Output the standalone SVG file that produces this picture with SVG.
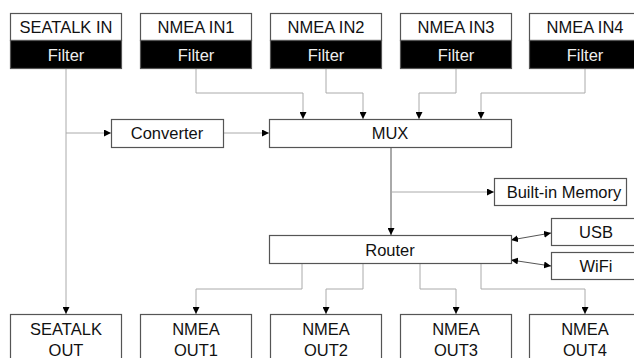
<svg xmlns="http://www.w3.org/2000/svg" width="634" height="358" viewBox="0 0 634 358">
<style>
.box{fill:#fff;stroke:#555;stroke-width:1.2}
.blk{fill:#000;stroke:#555;stroke-width:1.2}
.t{font-family:"Liberation Sans",Arial,sans-serif;font-size:16.5px;fill:#111;text-anchor:middle}
.w{fill:#eee}
.c{fill:none;stroke:#aaa;stroke-width:1}
.d{fill:none;stroke:#555;stroke-width:1}
</style>
<defs>
<marker id="ah" markerUnits="userSpaceOnUse" markerWidth="7" markerHeight="7" refX="6" refY="3" orient="auto-start-reverse" viewBox="0 0 6 6">
<path d="M0,0 L6,3 L0,6 z" fill="#000"/>
</marker>
</defs>
<g id="connectors">
<path class="c" d="M66,69 V314" marker-end="url(#ah)"/>
<path class="c" d="M66,133 H111" marker-end="url(#ah)"/>
<path class="c" d="M223,133 H269" marker-end="url(#ah)"/>
<path class="c" d="M196,69 V93 H303 V119" marker-end="url(#ah)"/>
<path class="c" d="M326,69 V93 H363 V119" marker-end="url(#ah)"/>
<path class="c" d="M456,69 V93 H419 V119" marker-end="url(#ah)"/>
<path class="c" d="M585,69 V93 H481 V119" marker-end="url(#ah)"/>
<path class="d" d="M391,147 V235" marker-end="url(#ah)"/>
<path class="c" d="M391,192 H494" marker-end="url(#ah)"/>
<path class="d" d="M511,240 L551,233" marker-start="url(#ah)" marker-end="url(#ah)"/>
<path class="d" d="M511,260 L551,266" marker-start="url(#ah)" marker-end="url(#ah)"/>
<path class="c" d="M302,263 V289 H196 V314" marker-end="url(#ah)"/>
<path class="c" d="M363,263 V289 H326 V314" marker-end="url(#ah)"/>
<path class="c" d="M420,263 V289 H456 V314" marker-end="url(#ah)"/>
<path class="c" d="M481,263 V289 H585 V314" marker-end="url(#ah)"/>
</g>
<g id="seatalk-in">
<rect class="box" x="10.5" y="13.5" width="111" height="27"/>
<rect class="blk" x="10.5" y="40.5" width="111" height="28"/>
<text class="t" x="66" y="32.5">SEATALK IN</text>
<text class="t w" x="66" y="60.5">Filter</text>
</g>
<g id="nmea-in1">
<rect class="box" x="140.5" y="13.5" width="111" height="27"/>
<rect class="blk" x="140.5" y="40.5" width="111" height="28"/>
<text class="t" x="196" y="32.5">NMEA IN1</text>
<text class="t w" x="196" y="60.5">Filter</text>
</g>
<g id="nmea-in2">
<rect class="box" x="270.5" y="13.5" width="111" height="27"/>
<rect class="blk" x="270.5" y="40.5" width="111" height="28"/>
<text class="t" x="326" y="32.5">NMEA IN2</text>
<text class="t w" x="326" y="60.5">Filter</text>
</g>
<g id="nmea-in3">
<rect class="box" x="400.5" y="13.5" width="111" height="27"/>
<rect class="blk" x="400.5" y="40.5" width="111" height="28"/>
<text class="t" x="456" y="32.5">NMEA IN3</text>
<text class="t w" x="456" y="60.5">Filter</text>
</g>
<g id="nmea-in4">
<rect class="box" x="529.5" y="13.5" width="111" height="27"/>
<rect class="blk" x="529.5" y="40.5" width="111" height="28"/>
<text class="t" x="585" y="32.5">NMEA IN4</text>
<text class="t w" x="585" y="60.5">Filter</text>
</g>
<g id="converter">
<rect class="box" x="111.5" y="119.5" width="112" height="28"/>
<text class="t" x="167" y="139">Converter</text>
</g>
<g id="mux">
<rect class="box" x="269.5" y="119.5" width="242" height="28"/>
<text class="t" x="390" y="139">MUX</text>
</g>
<g id="memory">
<rect class="box" x="494.5" y="178.5" width="132" height="27"/>
<text class="t" x="564" y="197.5">Built-in Memory</text>
</g>
<g id="router">
<rect class="box" x="269.5" y="235.5" width="242" height="28"/>
<text class="t" x="390" y="255.5">Router</text>
</g>
<g id="usb">
<rect class="box" x="551.5" y="218.5" width="90" height="27"/>
<text class="t" x="596" y="238">USB</text>
</g>
<g id="wifi">
<rect class="box" x="551.5" y="252.5" width="90" height="27"/>
<text class="t" x="596" y="272">WiFi</text>
</g>
<g id="seatalk-out">
<rect class="box" x="10.5" y="314.5" width="111" height="60"/>
<text class="t" x="66" y="335">SEATALK</text>
<text class="t" x="66" y="356">OUT</text>
</g>
<g id="nmea-out1">
<rect class="box" x="140.5" y="314.5" width="111" height="60"/>
<text class="t" x="196" y="335">NMEA</text>
<text class="t" x="196" y="356">OUT1</text>
</g>
<g id="nmea-out2">
<rect class="box" x="270.5" y="314.5" width="111" height="60"/>
<text class="t" x="326" y="335">NMEA</text>
<text class="t" x="326" y="356">OUT2</text>
</g>
<g id="nmea-out3">
<rect class="box" x="400.5" y="314.5" width="111" height="60"/>
<text class="t" x="456" y="335">NMEA</text>
<text class="t" x="456" y="356">OUT3</text>
</g>
<g id="nmea-out4">
<rect class="box" x="529.5" y="314.5" width="111" height="60"/>
<text class="t" x="585" y="335">NMEA</text>
<text class="t" x="585" y="356">OUT4</text>
</g>
</svg>
